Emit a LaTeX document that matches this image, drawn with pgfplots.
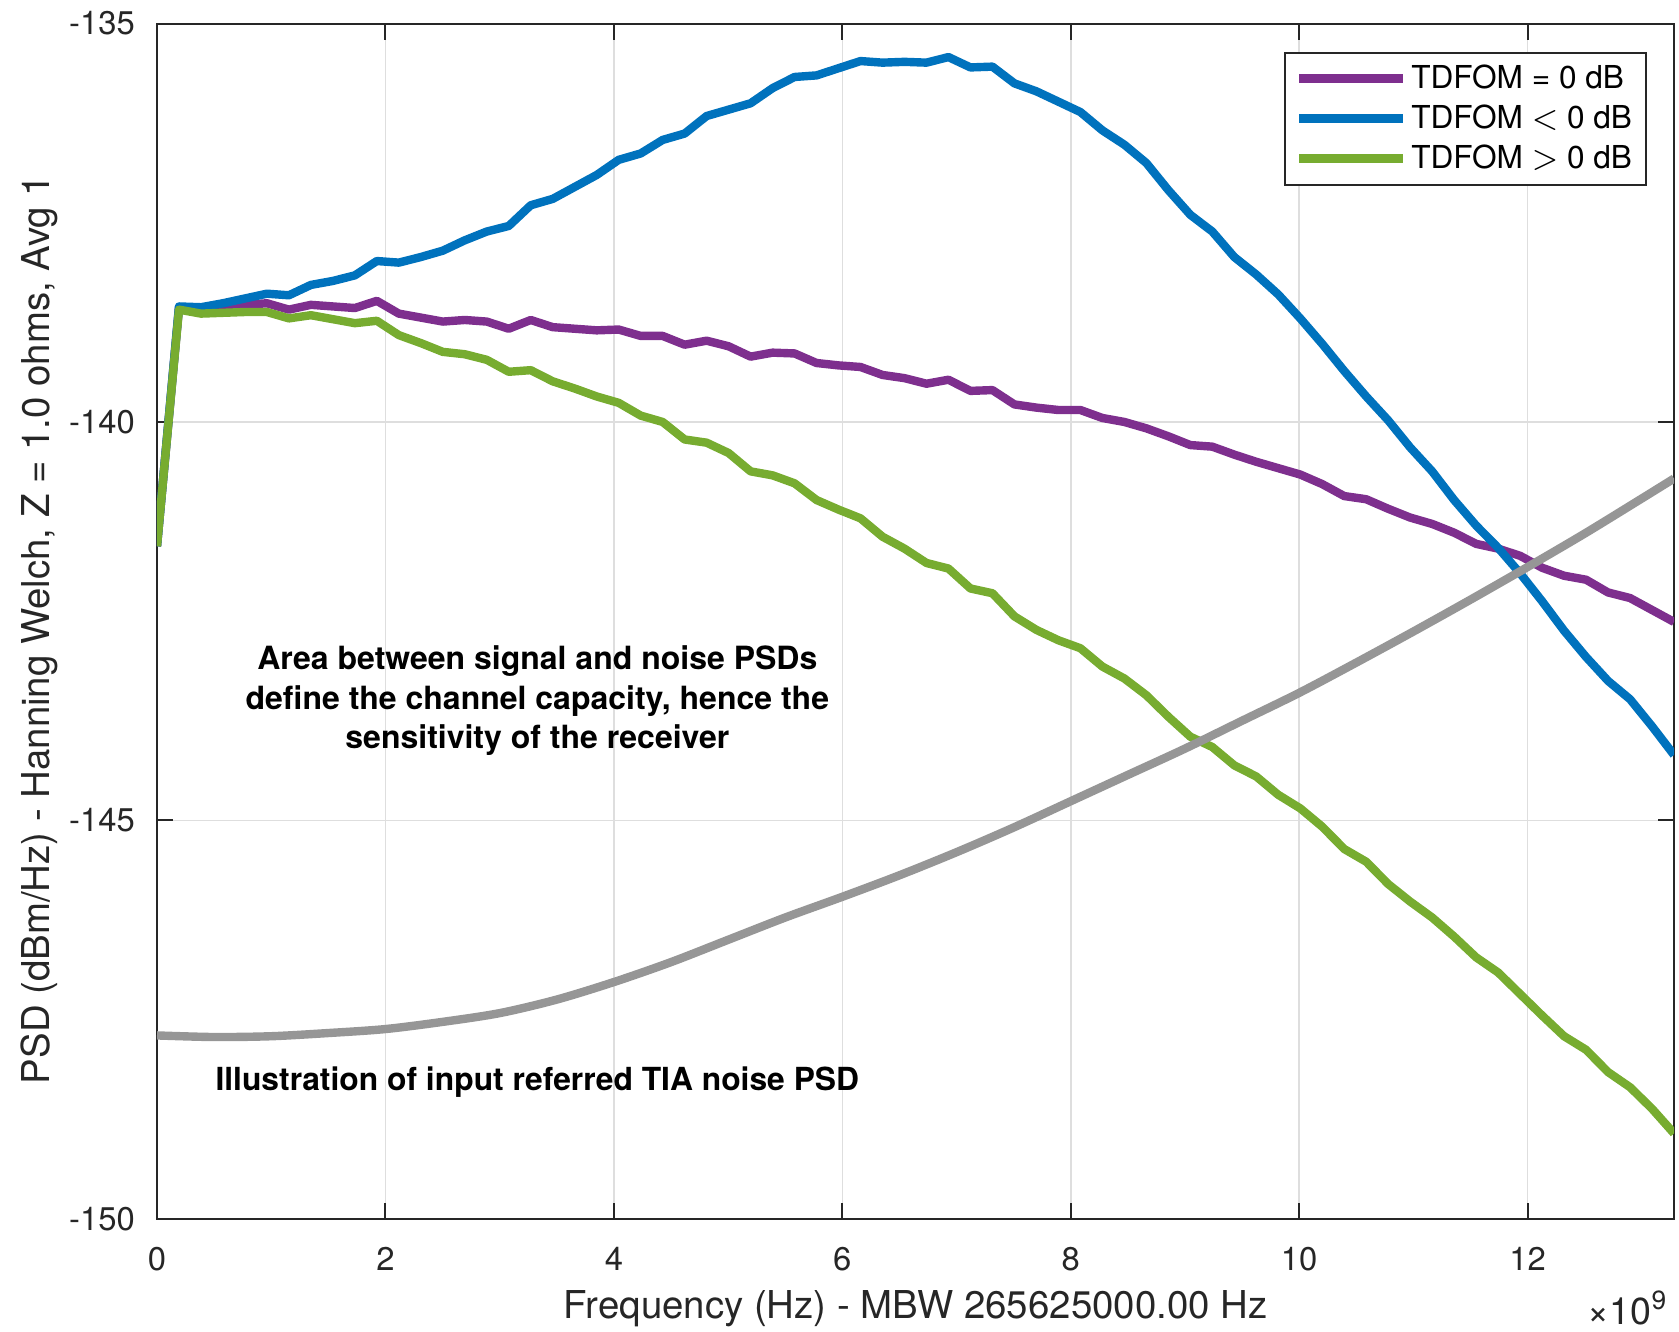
\documentclass[border=0pt]{standalone}
\usepackage{fontspec}
\setmainfont{TeX Gyre Heros}
\usepackage{pgfplots}
\usepackage{pgfplotstable}
\pgfplotsset{compat=1.18}
\definecolor{mlpurple}{RGB}{126,47,142}
\definecolor{mlblue}{RGB}{0,114,189}
\definecolor{mlgreen}{RGB}{119,172,48}
\definecolor{noisegray}{RGB}{150,150,150}
\definecolor{axgray}{RGB}{38,38,38}

% PSD (dBm/Hz) vs frequency (GHz)
\pgfplotstableread{
f       eq      lt      gt
0       -141.56 -141.56 -141.56
0.1925  -138.57 -138.55 -138.59
0.3850  -138.60 -138.56 -138.64
0.5774  -138.58 -138.51 -138.63
0.7699  -138.53 -138.45 -138.62
0.9624  -138.51 -138.39 -138.62
1.1549  -138.59 -138.41 -138.70
1.3474  -138.53 -138.28 -138.66
1.5399  -138.55 -138.23 -138.71
1.7323  -138.57 -138.16 -138.76
1.9248  -138.48 -137.98 -138.73
2.1173  -138.64 -138.00 -138.91
2.3098  -138.69 -137.93 -139.01
2.5023  -138.74 -137.85 -139.12
2.6947  -138.72 -137.72 -139.15
2.8872  -138.74 -137.61 -139.22
3.0797  -138.83 -137.54 -139.37
3.2722  -138.72 -137.28 -139.35
3.4647  -138.81 -137.20 -139.49
3.6572  -138.83 -137.05 -139.58
3.8496  -138.85 -136.90 -139.68
4.0421  -138.84 -136.71 -139.76
4.2346  -138.92 -136.63 -139.92
4.4271  -138.92 -136.46 -140.00
4.6196  -139.03 -136.38 -140.22
4.8121  -138.98 -136.16 -140.26
5.0045  -139.05 -136.08 -140.39
5.1970  -139.18 -136.00 -140.62
5.3895  -139.13 -135.81 -140.67
5.5820  -139.14 -135.67 -140.77
5.7745  -139.26 -135.65 -140.98
5.9669  -139.29 -135.56 -141.10
6.1594  -139.31 -135.47 -141.21
6.3519  -139.41 -135.49 -141.44
6.5444  -139.45 -135.48 -141.59
6.7369  -139.52 -135.49 -141.77
6.9293  -139.47 -135.42 -141.84
7.1218  -139.61 -135.55 -142.09
7.3143  -139.60 -135.54 -142.15
7.5068  -139.78 -135.75 -142.44
7.6993  -139.82 -135.85 -142.61
7.8918  -139.85 -135.98 -142.74
8.0842  -139.85 -136.11 -142.84
8.2767  -139.95 -136.34 -143.07
8.4692  -140.00 -136.52 -143.22
8.6617  -140.08 -136.75 -143.43
8.8542  -140.18 -137.09 -143.70
9.0467  -140.29 -137.40 -143.95
9.2391  -140.31 -137.61 -144.08
9.4316  -140.41 -137.93 -144.31
9.6241  -140.50 -138.15 -144.45
9.8166  -140.58 -138.40 -144.68
10.0091 -140.66 -138.70 -144.85
10.2015 -140.78 -139.02 -145.08
10.3940 -140.93 -139.36 -145.36
10.5865 -140.97 -139.68 -145.52
10.7790 -141.09 -139.98 -145.80
10.9715 -141.20 -140.32 -146.02
11.1639 -141.28 -140.62 -146.22
11.3564 -141.39 -140.98 -146.46
11.5489 -141.53 -141.30 -146.72
11.7414 -141.59 -141.58 -146.91
11.9339 -141.68 -141.90 -147.18
12.1264 -141.83 -142.25 -147.45
12.3188 -141.93 -142.62 -147.71
12.5113 -141.98 -142.95 -147.88
12.7038 -142.14 -143.25 -148.16
12.8963 -142.21 -143.48 -148.35
13.0888 -142.36 -143.82 -148.62
13.2813 -142.51 -144.18 -148.93
}\psdtable

% illustrative TIA noise PSD
\pgfplotstableread{
f        n
0        -147.70
0.5      -147.72
1.0      -147.71
1.5      -147.67
2.0      -147.62
2.5      -147.53
3.0      -147.42
3.5      -147.25
4.0      -147.03
4.5      -146.78
5.0      -146.50
5.5      -146.22
6.0      -145.96
6.5      -145.69
7.0      -145.40
7.5      -145.09
8.0      -144.76
8.5      -144.43
9.0      -144.10
9.5      -143.75
10.0     -143.40
10.5     -143.02
11.0     -142.63
11.5     -142.23
12.0     -141.82
12.5     -141.40
13.0     -140.96
13.28125 -140.71
}\noisetable

\begin{document}
\begin{tikzpicture}
\begin{axis}[
  name=ax,
  scale only axis,
  width=379.3pt, height=298.8pt,
  xmin=0, xmax=13.28125,
  ymin=-150, ymax=-135,
  xtick={0,2,4,6,8,10,12},
  xticklabels={0,2,4,6,8,10,12},
  ytick={-150,-145,-140,-135},
  yticklabels={-150,-145,-140,-135},
  tick align=inside,
  xtick pos=both, ytick pos=both,
  major tick length=4pt,
  tick style={axgray, line width=0.5pt},
  axis line style={axgray, line width=0.5pt},
  grid=major,
  grid style={black!13, line width=0.4pt},
  tick label style={font=\fontsize{8.2}{9}\selectfont, text=axgray},
  xticklabel style={yshift=-3.5pt},
  yticklabel style={xshift=-2pt},
  xlabel={Frequency (Hz) - MBW 265625000.00 Hz},
  ylabel={PSD (dBm/Hz) - Hanning Welch, Z = 1.0 ohms, Avg 1},
  label style={font=\fontsize{9.6}{10}\selectfont, text=axgray},
  xlabel style={at={(axis description cs:0.5,-0.075)}, anchor=center},
  ylabel style={at={(axis description cs:-0.0775,0.493)}, anchor=center},
  legend cell align=left,
  legend image code/.code={\draw[#1] (0pt,0pt) -- (26pt,0pt);},
  legend style={
    at={(axis description cs:0.9822,0.9766)},
    anchor=north east,
    draw=axgray, line width=0.5pt, fill=white,
    font=\fontsize{7.9}{9}\selectfont,
    inner xsep=2.5pt, inner ysep=2pt,
    row sep=1pt,
    nodes={inner sep=1pt, text height=6pt, text depth=1pt}
  },
  every axis plot/.append style={line width=2.1pt, line join=round}
]
\addplot[mlpurple] table[x=f, y=eq] {\psdtable};
\addlegendentry{TDFOM = 0 dB}
\addplot[mlblue] table[x=f, y=lt] {\psdtable};
\addlegendentry{TDFOM ${<}$ 0 dB}
\addplot[mlgreen] table[x=f, y=gt] {\psdtable};
\addlegendentry{TDFOM ${>}$ 0 dB}
\addplot[noisegray, smooth, forget plot] table[x=f, y=n] {\noisetable};

\node[align=center, font=\bfseries\fontsize{8.0}{9.9}\selectfont]
  at (axis cs:3.33,-143.50)
  {Area between signal and noise PSDs\\define the channel capacity, hence the\\sensitivity of the receiver};
\node[font=\bfseries\fontsize{7.95}{9.9}\selectfont]
  at (axis cs:3.33,-148.29) {Illustration of input referred TIA noise PSD};
\end{axis}
\node[font=\fontsize{9.4}{10}\selectfont, text=axgray, inner sep=0pt]
  at ([shift={(-11.5pt,-22.3pt)}]ax.south east) {×10\textsuperscript{9}};
\pgfresetboundingbox
\path[use as bounding box]
  ([shift={(-39.25pt,-28.1pt)}]ax.south west) rectangle
  ([shift={(1.25pt,5.9pt)}]ax.north east);
\end{tikzpicture}
\end{document}
